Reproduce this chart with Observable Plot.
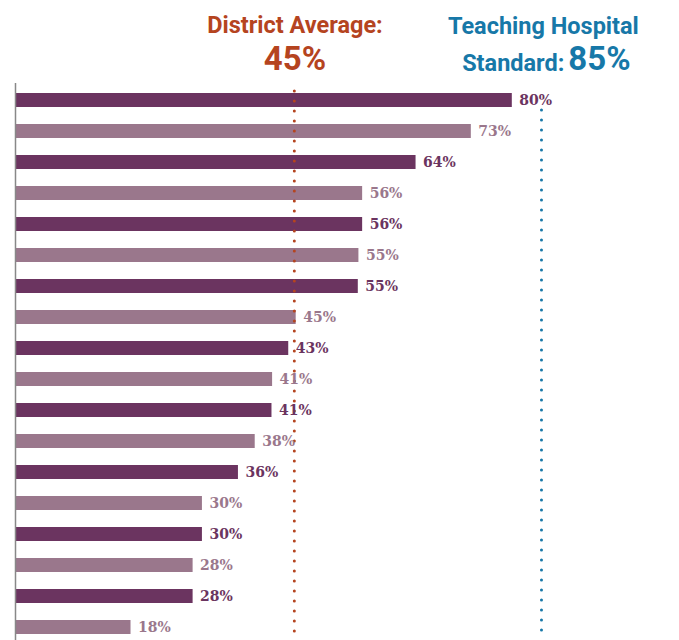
<!DOCTYPE html>
<html>
<head>
<meta charset="utf-8">
<script src="https://cdn.jsdelivr.net/npm/d3@7"></script>
<script src="https://cdn.jsdelivr.net/npm/@observablehq/plot@0.6"></script>
<style>
  html, body { margin: 0; padding: 0; background: #fff; }
  #chart svg { display: block; }
</style>
</head>
<body>
<div id="chart"></div>
<script>
const ranks = ["1","2","3","4","5","6","7","8","9","10","11","12","13","14","15","16","17","18"];
// bar lengths (labels show them rounded)
const values = [80,73.4,64.5,55.9,55.9,55.3,55.2,45.2,44,41.4,41.3,38.6,35.9,30.1,30.1,28.6,28.6,18.6];
const labels = ["80%","73%","64%","56%","56%","55%","55%","45%","43%","41%","41%","38%","36%","30%","30%","28%","28%","18%"];
const shades = ["dark","light","dark","light","dark","light","dark","light","dark","light","dark","light","dark","light","dark","light","dark","light"];
const districtAverage = 45;
const hospitalStandard = 85;

const palette = {dark: "#6b3460", light: "#9a778c"};
const RED = "#b5441f";
const BLUE = "#1778a8";

const data = ranks.map((r, i) => ({rank: r, value: values[i], label: labels[i], shade: shades[i]}));
const titleFont = "Roboto, 'DejaVu Sans', sans-serif";

const chart = Plot.plot({
  width: 679,
  height: 640,
  marginLeft: 15,
  marginRight: 43,
  marginTop: 83,
  marginBottom: 0,
  x: {domain: [0, 100], axis: null},
  y: {domain: ranks, axis: null, paddingInner: 0.55, paddingOuter: 0.23, align: 0.63},
  style: {background: "#fff", overflow: "visible"},
  marks: [
    Plot.barX(data, {y: "rank", x: "value", fill: d => palette[d.shade]}),
    Plot.ruleX([districtAverage], {x: d => d - 0.1, stroke: RED, strokeWidth: 3, strokeDasharray: "0,10", strokeLinecap: "round", insetTop: 8}),
    Plot.ruleX([hospitalStandard], {x: d => d - 0.3, stroke: BLUE, strokeWidth: 3, strokeDasharray: "0,10", strokeLinecap: "round", insetTop: 27}),
    Plot.ruleX([0], {stroke: "#888", strokeWidth: 1.5}),
    Plot.text(data, {
      y: "rank", x: "value", text: "label", dx: 7, textAnchor: "start",
      fill: d => palette[d.shade], fontWeight: "bold", fontSize: 14,
      fontFamily: "'DejaVu Serif', serif"
    }),
    Plot.text(["District Average:"], {x: [districtAverage], frameAnchor: "top", dy: -58, text: d => d,
      fill: RED, fontSize: 23.5, fontWeight: 700, fontFamily: titleFont, lineAnchor: "middle"}),
    Plot.text([districtAverage + "%"], {x: [districtAverage], frameAnchor: "top", dy: -24, text: d => d,
      fill: RED, fontSize: 33, fontWeight: 700, fontFamily: titleFont, lineAnchor: "middle"}),
    Plot.text(["Teaching Hospital"], {x: [hospitalStandard], frameAnchor: "top", dy: -57, text: d => d,
      fill: BLUE, fontSize: 23.5, fontWeight: 700, fontFamily: titleFont, lineAnchor: "middle"}),
    Plot.text(["Standard:"], {x: [hospitalStandard], frameAnchor: "top", dy: -20, dx: 21, text: d => d,
      fill: BLUE, fontSize: 23.5, fontWeight: 700, fontFamily: titleFont, lineAnchor: "middle", textAnchor: "end"}),
    Plot.text([hospitalStandard + "%"], {x: [hospitalStandard], frameAnchor: "top", dy: -24, dx: 25, text: d => d,
      fill: BLUE, fontSize: 33, fontWeight: 700, fontFamily: titleFont, lineAnchor: "middle", textAnchor: "start"})
  ]
});
document.getElementById("chart").appendChild(chart);
</script>
</body>
</html>
